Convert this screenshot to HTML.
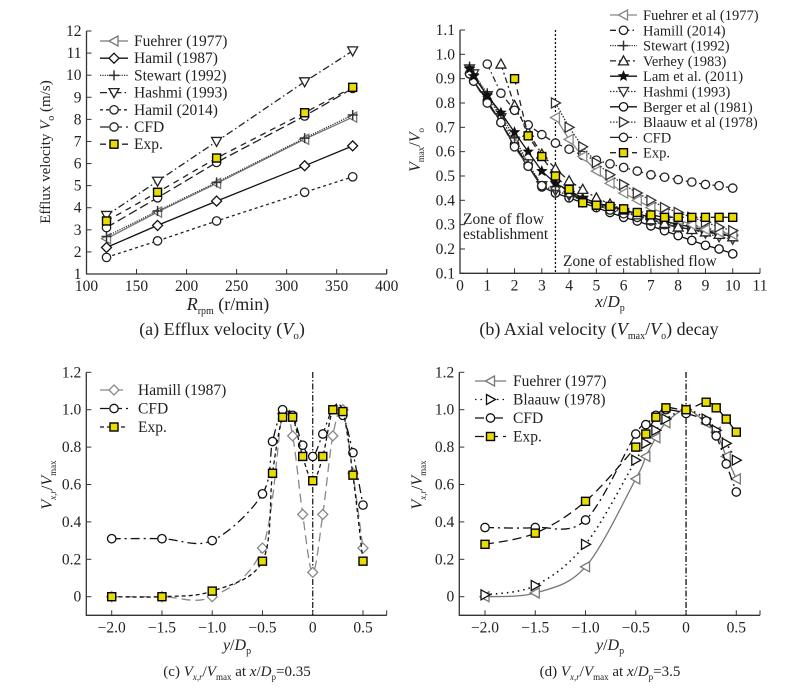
<!DOCTYPE html>
<html><head><meta charset="utf-8"><style>
body{margin:0;background:#fff}
svg{display:block;font-family:"Liberation Serif",serif}
</style></head><body>
<svg id="fig" width="807" height="690" viewBox="0 0 807 690"></svg>
<script>
// ---------- DATA ----------
// (a)
const aRpm=[120,171,230,318,366];
const aFuehrer=[2.6,3.8,5.1,7.1,8.1];
const aHamil87=[2.2,3.2,4.3,5.9,6.8];
const aStewart=[2.7,3.85,5.15,7.15,8.2];
const aHashmi=[3.65,5.2,7.0,9.7,11.1];
const aHamil14=[1.75,2.5,3.4,4.7,5.4];
const aCFD=[3.1,4.45,6.05,8.15,9.4];
const aExp=[3.4,4.7,6.25,8.3,9.45];
const aXTicks=[100,150,200,250,300,350,400];
const aYTicks=[1,2,3,4,5,6,7,8,9,10,11,12];
// (b)
const bXFar=[3.5,4,4.5,5,5.5,6,6.5,7,7.5,8,8.5,9,9.5,10];
const bFuehrer=[0.74,0.65,0.58,0.52,0.47,0.43,0.40,0.37,0.345,0.32,0.30,0.28,0.27,0.26];
const bBlaauw=[0.80,0.70,0.62,0.555,0.505,0.465,0.43,0.40,0.37,0.35,0.33,0.31,0.29,0.275];
const bXHam=[1,1.5,2,2.5,3,3.5,4,4.5,5,5.5,6,6.5,7,7.5,8,8.5,9,9.5,10];
const bHamill=[0.96,0.84,0.77,0.71,0.67,0.635,0.61,0.585,0.565,0.55,0.535,0.52,0.505,0.495,0.485,0.475,0.465,0.46,0.45];
const bXNear=[0.35,0.5,1,1.5,2,2.5,3,3.5,4,4.5,5,5.5,6,6.5,7,7.5,8,8.5,9,9.5,10];
const bStewart=[0.95,0.92,0.84,0.75,0.66,0.55,0.46,0.44,0.42,0.40,0.385,0.37,0.355,0.34,0.325,0.31,0.30,0.29,0.28,0.27,0.26];
const bLam=[0.94,0.91,0.83,0.76,0.68,0.60,0.52,0.47,0.44,0.41,0.39,0.375,0.36,0.345,0.33,0.315,0.30,0.29,0.275,0.265,0.25];
const bHashmi=[0.94,0.92,0.83,0.74,0.64,0.55,0.46,0.44,0.42,0.40,0.38,0.365,0.35,0.335,0.32,0.305,0.29,0.28,0.265,0.25,0.24];
const bBerger=[0.92,0.89,0.81,0.72,0.63,0.54,0.455,0.43,0.41,0.39,0.37,0.35,0.33,0.315,0.295,0.275,0.255,0.235,0.215,0.20,0.18];
const bCFD=[0.92,0.89,0.80,0.72,0.62,0.54,0.46,0.48,0.43,0.40,0.38,0.36,0.345,0.33,0.315,0.30,0.29,0.28,0.27,0.26,0.255];
const bXVer=[1.5,2,2.5,3,3.5,4,4.5,5,5.5,6,6.5,7,7.5,8,8.5,9,9.5,10];
const bVerhey=[0.96,0.79,0.68,0.59,0.53,0.48,0.445,0.41,0.385,0.36,0.34,0.32,0.305,0.29,0.28,0.27,0.26,0.25];
const bXExp=[2,2.5,3,3.5,4,4.5,5,5.5,6,6.5,7,7.5,8,8.5,9,9.5,10];
const bExp=[0.90,0.665,0.58,0.50,0.445,0.39,0.38,0.375,0.365,0.35,0.34,0.33,0.33,0.33,0.33,0.33,0.33];
const bXTicks=[0,1,2,3,4,5,6,7,8,9,10,11];
const bYTicks=[0.1,0.2,0.3,0.4,0.5,0.6,0.7,0.8,0.9,1.0,1.1];
// (c)
const cXHam=[-2,-1.5,-1,-0.5,-0.3,-0.2,-0.1,0,0.1,0.2,0.3,0.4,0.5];
const cHamill=[0,0,0,0.26,0.98,0.86,0.44,0.13,0.44,0.86,1.0,0.66,0.26];
const cX=[-2,-1.5,-1,-0.5,-0.4,-0.3,-0.2,-0.1,0,0.1,0.2,0.3,0.4,0.5];
const cCFD=[0.31,0.31,0.30,0.55,0.83,1.0,0.97,0.81,0.75,0.87,1.0,0.97,0.77,0.49];
const cExp=[0,0,0.03,0.19,0.66,0.96,0.96,0.75,0.62,0.75,1.0,0.99,0.65,0.19];
// (d)
const dX=[-2,-1.5,-1,-0.5,-0.4,-0.3,-0.2,0,0.2,0.3,0.4,0.5];
const dFuehrer=[0,0.02,0.16,0.63,0.75,0.85,0.93,1.0,0.93,0.88,0.75,0.63];
const dBlaauw=[0.01,0.06,0.28,0.73,0.82,0.89,0.95,1.0,0.95,0.89,0.82,0.73];
const dCFD=[0.37,0.37,0.41,0.87,0.92,0.97,1.0,0.98,0.94,0.86,0.71,0.56];
const dExp=[0.28,0.34,0.51,0.80,0.87,0.96,1.01,1.0,1.04,1.01,0.95,0.88];
const cdXTicks=[-2.0,-1.5,-1.0,-0.5,0,0.5];
const cdXLabels=["\u22122.0","\u22121.5","\u22121.0","\u22120.5","0","0.5"];
const cdYTicks=[0,0.2,0.4,0.6,0.8,1.0,1.2];
const cdYLabels=["0","0.2","0.4","0.6","0.8","1.0","1.2"];

// ---------- HELPERS ----------
const NS="http://www.w3.org/2000/svg";
const svg=document.getElementById('fig');
function el(tag,attrs,parent){const e=document.createElementNS(NS,tag);for(const k in attrs)e.setAttribute(k,attrs[k]);(parent||svg).appendChild(e);return e;}
function lin(d0,d1,p0,p1){return v=>p0+(v-d0)*(p1-p0)/(d1-d0);}
function pathStr(pts,smooth){
  if(!smooth)return 'M'+pts.map(p=>p[0].toFixed(1)+','+p[1].toFixed(1)).join('L');
  let s='M'+pts[0][0]+','+pts[0][1];
  for(let i=0;i<pts.length-1;i++){
    const p0=pts[Math.max(0,i-1)],p1=pts[i],p2=pts[i+1],p3=pts[Math.min(pts.length-1,i+2)];
    const c1=[p1[0]+(p2[0]-p0[0])/6,p1[1]+(p2[1]-p0[1])/6];
    const c2=[p2[0]-(p3[0]-p1[0])/6,p2[1]-(p3[1]-p1[1])/6];
    s+='C'+c1[0].toFixed(1)+','+c1[1].toFixed(1)+' '+c2[0].toFixed(1)+','+c2[1].toFixed(1)+' '+p2[0].toFixed(1)+','+p2[1].toFixed(1);
  }
  return s;
}
function marker(g,type,x,y,color){
  const r=4.2,st={stroke:color,'stroke-width':1.3,fill:'#fff'};
  let e;
  if(type==='circle')e=el('circle',Object.assign({cx:x,cy:y,r:r},st),g);
  else if(type==='square')e=el('rect',{x:x-4,y:y-4,width:8,height:8,fill:'#e8dc00',stroke:'#000','stroke-width':1.4},g);
  else if(type==='diamond')e=el('polygon',Object.assign({points:`${x},${y-5} ${x+5},${y} ${x},${y+5} ${x-5},${y}`},st),g);
  else if(type==='tleft')e=el('polygon',Object.assign({points:`${x-5},${y} ${x+4},${y-5} ${x+4},${y+5}`},st),g);
  else if(type==='tright')e=el('polygon',Object.assign({points:`${x+5},${y} ${x-4},${y-5} ${x-4},${y+5}`},st),g);
  else if(type==='tup')e=el('polygon',Object.assign({points:`${x},${y-5} ${x+5},${y+4} ${x-5},${y+4}`},st),g);
  else if(type==='tdown')e=el('polygon',Object.assign({points:`${x},${y+5} ${x+5},${y-4} ${x-5},${y-4}`},st),g);
  else if(type==='plus')e=el('path',{d:`M${x-5},${y}H${x+5}M${x},${y-5}V${y+5}`,stroke:color,'stroke-width':1.5},g);
  else if(type==='star'){let p=[];for(let i=0;i<10;i++){const a=-Math.PI/2+i*Math.PI/5,rr=i%2?2.2:5;p.push((x+rr*Math.cos(a)).toFixed(1)+','+(y+rr*Math.sin(a)).toFixed(1));}
    e=el('polygon',{points:p.join(' '),fill:color,stroke:color,'stroke-width':0.8},g);}
  
  
}
function series(name,xs,ys,sx,sy,opt){
  const g=el('g',{});
  
  
  const pts=xs.map((x,i)=>[sx(x),sy(ys[i])]);
  const p=el('path',{d:pathStr(pts,opt.smooth),fill:'none',stroke:opt.color,'stroke-width':opt.w||1.3,'stroke-dasharray':opt.dash||'none'},g);
  
  
  if(opt.marker)pts.forEach(q=>marker(g,opt.marker,q[0],q[1],opt.color));
}
function text(str,x,y,size,anchor,name,parent){
  const t=el('text',{x:x,y:y,'font-size':size,'text-anchor':anchor||'start',fill:'#222'},parent);
  t.innerHTML=str;
  
  
  return t;
}
function axes(name,L,R,T,B,sx,sy,xt,xl,yt,yl,fs){
  const g=el('g',{});
  
  
  el('path',{d:`M${L},${T}V${B}H${R}`,fill:'none',stroke:'#333','stroke-width':1.3},g);
  xt.forEach((v,i)=>{const x=sx(v);el('line',{x1:x,x2:x,y1:B,y2:B-5,stroke:'#333','stroke-width':1},g);
    text(xl[i],x,B+17,fs,'middle','x-tick-label',g);});
  el('line',{x1:R,x2:R,y1:B,y2:B-5,stroke:'#333','stroke-width':1},g);
  yt.forEach((v,i)=>{const y=sy(v);el('line',{x1:L,x2:L+5,y1:y,y2:y,stroke:'#333','stroke-width':1},g);
    text(yl[i],L-5,y+5,fs,'end','y-tick-label',g);});
}
function legend(name,items,x0,x1,tx,y0,dy,fs){
  const g=el('g',{});
  
  
  items.forEach((it,i)=>{const y=y0+i*dy;
    const l=el('line',{x1:x0,x2:x1,y1:y,y2:y,stroke:it.color,'stroke-width':1.3,'stroke-dasharray':it.dash||'none'},g);
    
    
    marker(g,it.marker,(x0+x1)/2,y,it.color);
    text(it.label,tx,y+5,fs,'start','legend-entry',g);});
}

// ---------- PANEL A ----------
{
const sx=lin(100,400,86.5,386.7), sy=lin(1,12,274,31);
axes('panel-a-axes',86.5,386.7,31,274,sx,sy,aXTicks,aXTicks.map(String),aYTicks,aYTicks.map(String),15.5);
const S=[['fuehrer-1977',aFuehrer,'#777','','tleft'],['hamil-1987',aHamil87,'#111','','diamond'],['stewart-1992',aStewart,'#333','1.2,1.2','plus'],
 ['hashmi-1993',aHashmi,'#222','7,3,1.5,3','tdown'],['hamil-2014',aHamil14,'#222','3,3','circle'],['cfd',aCFD,'#222','9,4','circle'],['exp',aExp,'#222','6,5','square']];
S.forEach(s=>series('a-'+s[0],aRpm,s[1],sx,sy,{color:s[2],dash:s[3],marker:s[4]}));
legend('panel-a-legend',[{label:'Fuehrer (1977)',color:'#777',marker:'tleft'},{label:'Hamil (1987)',color:'#111',marker:'diamond'},
 {label:'Stewart (1992)',color:'#333',dash:'1.2,1.2',marker:'plus'},{label:'Hashmi (1993)',color:'#222',dash:'7,3,1.5,3',marker:'tdown'},
 {label:'Hamil (2014)',color:'#222',dash:'3,3',marker:'circle'},{label:'CFD',color:'#222',dash:'9,4',marker:'circle'},{label:'Exp.',color:'#222',dash:'6,5',marker:'square'}],
 100,128,134,41,17.2,15.5);
const yl=text('Efflux velocity <tspan font-style="italic">V</tspan><tspan font-size="10" dy="4">o</tspan><tspan dy="-4"> (m/s)</tspan>',0,0,15,'middle','y-axis-title');
yl.setAttribute('transform','translate(50,152) rotate(-90)');
text('<tspan font-style="italic">R</tspan><tspan font-size="10" dy="4">rpm</tspan><tspan dy="-4"> (r/min)</tspan>',228,310,18,'middle','x-axis-title');
text('(a) Efflux velocity (<tspan font-style="italic">V</tspan><tspan font-size="11" dy="4">o</tspan><tspan dy="-4">)</tspan>',222,335,18,'middle','caption-a');
}
// ---------- PANEL B ----------
{
const sx=lin(0,11,460,760), sy=lin(0.1,1.1,273.3,30);
axes('panel-b-axes',460,760,30,273.3,sx,sy,bXTicks,bXTicks.map(String),bYTicks,bYTicks.map(v=>v.toFixed(1)),15.5);
const vl=el('line',{x1:sx(3.5),x2:sx(3.5),y1:30,y2:273,stroke:'#111','stroke-width':1.3,'stroke-dasharray':'2,2'});


series('b-berger',bXNear,bBerger,sx,sy,{color:'#111',marker:'circle'});
series('b-hashmi',bXNear,bHashmi,sx,sy,{color:'#333',dash:'1.5,1.5',marker:'tdown'});
series('b-stewart',bXNear,bStewart,sx,sy,{color:'#333',dash:'1.2,1.2',marker:'plus'});
series('b-cfd',bXNear,bCFD,sx,sy,{color:'#222',dash:'9,4',marker:'circle'});
series('b-lam',bXNear,bLam,sx,sy,{color:'#111',marker:'star'});
series('b-verhey',bXVer,bVerhey,sx,sy,{color:'#222',dash:'6,3,2,3',marker:'tup'});
series('b-hamill',bXHam,bHamill,sx,sy,{color:'#222',dash:'6,3,1.5,3',marker:'circle'});
series('b-fuehrer',bXFar,bFuehrer,sx,sy,{color:'#888',marker:'tleft'});
series('b-blaauw',bXFar,bBlaauw,sx,sy,{color:'#333',dash:'1.5,1.5',marker:'tright'});
series('b-exp',bXExp,bExp,sx,sy,{color:'#222',dash:'6,5',marker:'square'});
legend('panel-b-legend',[{label:'Fuehrer et al (1977)',color:'#888',marker:'tleft'},{label:'Hamill (2014)',color:'#222',dash:'6,3,1.5,3',marker:'circle'},
 {label:'Stewart (1992)',color:'#333',dash:'1.2,1.2',marker:'plus'},{label:'Verhey (1983)',color:'#222',dash:'6,3,2,3',marker:'tup'},
 {label:'Lam et al. (2011)',color:'#111',marker:'star'},{label:'Hashmi (1993)',color:'#333',dash:'1.5,1.5',marker:'tdown'},
 {label:'Berger et al (1981)',color:'#111',marker:'circle'},{label:'Blaauw et al (1978)',color:'#333',dash:'1.5,1.5',marker:'tright'},
 {label:'CFD',color:'#222',dash:'9,4',marker:'circle'},{label:'Exp.',color:'#222',dash:'6,5',marker:'square'}],
 610,637,643,15,15.3,14.5);
text('Zone of flow',463,224,15.5,'start','zone-label-1');
text('establishment',463,239,15.5,'start','zone-label-2');
text('Zone of established flow',563,266,15.5,'start','zone-label-3');
const yl=text('<tspan font-style="italic">V</tspan><tspan font-size="9" dy="4">max</tspan><tspan dy="-4">/</tspan><tspan font-style="italic">V</tspan><tspan font-size="9" dy="4">o</tspan>',0,0,16,'middle','y-axis-title');
yl.setAttribute('transform','translate(420,150) rotate(-90)');
text('<tspan font-style="italic">x</tspan>/<tspan font-style="italic">D</tspan><tspan font-size="10" dy="4">p</tspan>',610,307,17,'middle','x-axis-title');
text('(b) Axial velocity (<tspan font-style="italic">V</tspan><tspan font-size="10" dy="4">max</tspan><tspan dy="-4">/</tspan><tspan font-style="italic">V</tspan><tspan font-size="10" dy="4">o</tspan><tspan dy="-4">) decay</tspan>',599,335,18,'middle','caption-b');
}
// ---------- PANEL C ----------
{
const sx=lin(-2,0.5,111.7,363), sy=lin(0,1.2,596.7,372.3);
axes('panel-c-axes',86.3,386.7,372.3,615.3,sx,sy,cdXTicks,cdXLabels,cdYTicks,cdYLabels,15.5);
const vl=el('line',{x1:sx(0),x2:sx(0),y1:372,y2:615,stroke:'#111','stroke-width':1.2,'stroke-dasharray':'6,2,1.5,2'});


series('c-hamill',cXHam,cHamill,sx,sy,{color:'#888',dash:'9,5',marker:'diamond',smooth:true});
series('c-cfd',cX,cCFD,sx,sy,{color:'#111',dash:'9,4,2,4',marker:'circle',smooth:true});
series('c-exp',cX,cExp,sx,sy,{color:'#111',dash:'4,3',marker:'square',smooth:true});
legend('panel-c-legend',[{label:'Hamill (1987)',color:'#888',dash:'9,5',marker:'diamond'},{label:'CFD',color:'#111',dash:'9,4',marker:'circle'},{label:'Exp.',color:'#111',dash:'4,3',marker:'square'}],
 100,128,138,390,18.5,15.5);
const yl=text('<tspan font-style="italic">V</tspan><tspan font-size="9" dy="4" font-style="italic">x,r</tspan><tspan dy="-4">/</tspan><tspan font-style="italic">V</tspan><tspan font-size="9" dy="4">max</tspan>',0,0,16,'middle','y-axis-title');
yl.setAttribute('transform','translate(52,485) rotate(-90)');
text('<tspan font-style="italic">y</tspan>/<tspan font-style="italic">D</tspan><tspan font-size="10" dy="4">p</tspan>',237,650,16,'middle','x-axis-title');
text('(c) <tspan font-style="italic">V</tspan><tspan font-size="9" dy="4" font-style="italic">x,r</tspan><tspan dy="-4">/</tspan><tspan font-style="italic">V</tspan><tspan font-size="9" dy="4">max</tspan><tspan dy="-4"> at </tspan><tspan font-style="italic">x</tspan>/<tspan font-style="italic">D</tspan><tspan font-size="9" dy="4">p</tspan><tspan dy="-4">=0.35</tspan>',237,676,15,'middle','caption-c');
}
// ---------- PANEL D ----------
{
const sx=lin(-2,0.5,485,736.3), sy=lin(0,1.2,596.7,372.3);
axes('panel-d-axes',459.3,760,372.3,615.3,sx,sy,cdXTicks,cdXLabels,cdYTicks,cdYLabels,15.5);
const vl=el('line',{x1:sx(0),x2:sx(0),y1:372,y2:615,stroke:'#111','stroke-width':1.3,'stroke-dasharray':'6,2,1.5,2'});


series('d-fuehrer',dX,dFuehrer,sx,sy,{color:'#777',marker:'tleft',smooth:true});
series('d-blaauw',dX,dBlaauw,sx,sy,{color:'#111',dash:'1.5,4',w:1.6,marker:'tright',smooth:true});
series('d-cfd',dX,dCFD,sx,sy,{color:'#111',dash:'9,4,2,4',marker:'circle',smooth:true});
series('d-exp',dX,dExp,sx,sy,{color:'#111',dash:'9,5',marker:'square',smooth:true});
legend('panel-d-legend',[{label:'Fuehrer (1977)',color:'#777',marker:'tleft'},{label:'Blaauw (1978)',color:'#111',dash:'1.5,4',marker:'tright'},
 {label:'CFD',color:'#111',dash:'9,4,2,4',marker:'circle'},{label:'Exp.',color:'#111',dash:'9,5',marker:'square'}],
 475,506,513,381,18.5,15.5);
const yl=text('<tspan font-style="italic">V</tspan><tspan font-size="9" dy="4" font-style="italic">x,r</tspan><tspan dy="-4">/</tspan><tspan font-style="italic">V</tspan><tspan font-size="9" dy="4">max</tspan>',0,0,16,'middle','y-axis-title');
yl.setAttribute('transform','translate(422,485) rotate(-90)');
text('<tspan font-style="italic">y</tspan>/<tspan font-style="italic">D</tspan><tspan font-size="10" dy="4">p</tspan>',610,650,16,'middle','x-axis-title');
text('(d) <tspan font-style="italic">V</tspan><tspan font-size="9" dy="4" font-style="italic">x,r</tspan><tspan dy="-4">/</tspan><tspan font-style="italic">V</tspan><tspan font-size="9" dy="4">max</tspan><tspan dy="-4"> at </tspan><tspan font-style="italic">x</tspan>/<tspan font-style="italic">D</tspan><tspan font-size="9" dy="4">p</tspan><tspan dy="-4">=3.5</tspan>',610,676,15,'middle','caption-d');
}
</script>
</body></html>
